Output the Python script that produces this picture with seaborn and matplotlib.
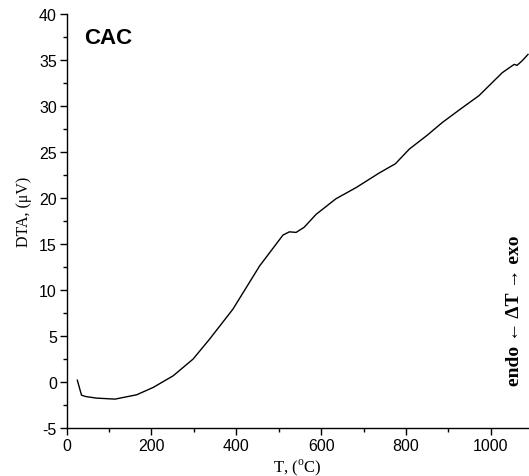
import matplotlib
matplotlib.use("Agg")
import matplotlib.pyplot as plt
import seaborn as sns
import pandas as pd
from matplotlib.ticker import MultipleLocator

# DTA curve
temperature = [25, 35, 45, 70, 114, 165, 204, 251, 298, 337, 392, 455, 510, 525,
               541, 560, 588, 635, 682, 737, 775, 808, 850, 886, 930, 972, 1027,
               1055, 1062, 1074, 1088]
dta = [0.2, -1.45, -1.6, -1.77, -1.88, -1.41, -0.61, 0.65, 2.47, 4.64, 7.9, 12.6,
       15.95, 16.3, 16.24, 16.8, 18.2, 19.9, 21.1, 22.7, 23.7, 25.3, 26.8, 28.2,
       29.7, 31.1, 33.6, 34.5, 34.4, 34.9, 35.6]

df = pd.DataFrame({'T': temperature, 'DTA': dta})

sns.set_style('ticks', {'text.color': 'black', 'axes.labelcolor': 'black',
                        'xtick.color': 'black', 'ytick.color': 'black',
                        'axes.edgecolor': 'black'})
plt.rcParams['font.family'] = ['Liberation Sans', 'DejaVu Sans']
plt.rcParams['axes.unicode_minus'] = False
plt.rcParams['mathtext.fontset'] = 'custom'
plt.rcParams['mathtext.rm'] = 'Liberation Serif'

fig = plt.figure(figsize=(5.29, 4.77), dpi=100)
ax = fig.add_axes([0.126, 0.101, 0.874, 0.868])
sns.lineplot(data=df, x='T', y='DTA', color='black', linewidth=1.0, ax=ax)

ax.set_xlim(0, 1090)
ax.set_ylim(-5, 40)
ax.xaxis.set_major_locator(MultipleLocator(200))
ax.xaxis.set_minor_locator(MultipleLocator(100))
ax.yaxis.set_major_locator(MultipleLocator(5))
ax.yaxis.set_minor_locator(MultipleLocator(2.5))
ax.tick_params(which='major', length=5, width=1, labelsize=11.5, pad=2)
ax.tick_params(which='minor', length=3, width=1)
for s in ['top', 'right']:
    ax.spines[s].set_visible(False)
for s in ['left', 'bottom']:
    ax.spines[s].set_linewidth(1)

ax.set_xlabel(r'T, ($^{\mathrm{o}}$C)', family='Liberation Serif', fontsize=12)
ax.set_ylabel('DTA, (\u03bcV)', family='Liberation Serif', fontsize=11.5)
ax.xaxis.set_label_coords(0.498, -0.068)
ax.yaxis.set_label_coords(-0.076, 0.523)

ax.text(0.038, 0.929, 'CAC', transform=ax.transAxes, fontsize=16, fontweight='bold',
        family=['Liberation Sans Narrow', 'Liberation Sans'], va='baseline', ha='left')
ax.text(0.968, 0.284, 'endo \u2190 \u0394T \u2192 exo', transform=ax.transAxes,
        family='Liberation Serif', fontsize=14, fontweight='bold', rotation=90,
        va='center', ha='center')

plt.savefig('out.png', dpi=100)
